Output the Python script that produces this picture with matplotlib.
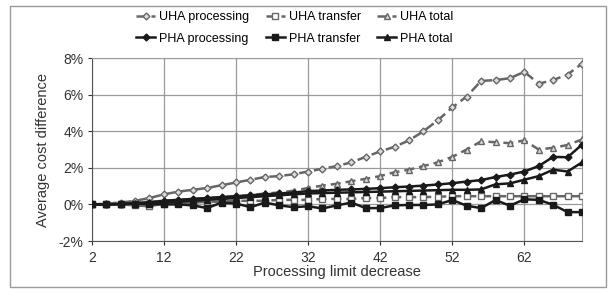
import matplotlib.pyplot as plt
from matplotlib.patches import Rectangle
from matplotlib.ticker import FuncFormatter

plt.rcParams['font.family'] = ['Liberation Sans', 'DejaVu Sans']

# limite de procesamiento (2, 4, ..., 70)
x = list(range(2, 71, 2))

uha_processing = [0.0, 0.05, 0.1, 0.2, 0.35, 0.55, 0.7, 0.8, 0.9, 1.05, 1.2, 1.35, 1.5, 1.55, 1.65,
                  1.8, 1.95, 2.1, 2.3, 2.6, 2.9, 3.15, 3.5, 4.0, 4.6, 5.3, 5.9, 6.75, 6.8, 6.9,
                  7.25, 6.6, 6.8, 7.1, 7.7]
uha_transfer = [0.0, 0.0, 0.0, -0.05, -0.1, 0.05, 0.1, 0.1, 0.15, 0.15, 0.2, 0.2, 0.2, 0.25, 0.25,
                0.25, 0.3, 0.3, 0.3, 0.35, 0.35, 0.4, 0.4, 0.4, 0.42, 0.45, 0.45, 0.45, 0.45, 0.45,
                0.45, 0.45, 0.45, 0.45, 0.45]
uha_total = [0.0, 0.0, 0.05, 0.1, 0.15, 0.2, 0.25, 0.3, 0.35, 0.4, 0.45, 0.5, 0.6, 0.65, 0.75,
             0.9, 1.03, 1.13, 1.27, 1.4, 1.55, 1.76, 1.9, 2.1, 2.3, 2.6, 3.0, 3.45, 3.4, 3.35,
             3.5, 3.0, 3.1, 3.25, 3.55]
pha_processing = [0.0, 0.0, 0.02, 0.05, 0.1, 0.2, 0.25, 0.3, 0.35, 0.4, 0.45, 0.5, 0.55, 0.6, 0.65,
                  0.73, 0.76, 0.8, 0.82, 0.85, 0.89, 0.94, 0.98, 1.03, 1.09, 1.16, 1.25, 1.33, 1.5, 1.63,
                  1.8, 2.1, 2.6, 2.58, 3.27]
pha_transfer = [0.0, 0.0, 0.02, 0.05, 0.02, 0.0, 0.0, -0.05, -0.2, 0.1, 0.05, -0.15, 0.1, -0.05, -0.15,
                -0.1, -0.22, -0.05, 0.1, -0.2, -0.2, -0.05, -0.03, -0.03, 0.0, 0.24, -0.07, -0.2, 0.24, -0.07,
                0.28, 0.25, -0.02, -0.42, -0.42]
pha_total = [0.0, 0.0, 0.03, 0.05, 0.08, 0.12, 0.15, 0.2, 0.25, 0.3, 0.35, 0.4, 0.45, 0.5, 0.55,
             0.6, 0.62, 0.64, 0.66, 0.68, 0.7, 0.72, 0.74, 0.76, 0.78, 0.8, 0.8, 0.82, 1.1, 1.15,
             1.35, 1.55, 1.9, 1.8, 2.3]

fig = plt.figure(figsize=(6.12, 2.89), dpi=100)
ax = fig.add_axes([0.150, 0.166, 0.801, 0.633])

gris = '#666666'
negro = '#1a1a1a'

series = [
    (uha_processing, 'UHA processing', 'D', '--', gris, '#dcdcdc', 3.5),
    (uha_transfer, 'UHA transfer', 's', '--', gris, 'white', 4.5),
    (uha_total, 'UHA total', '^', '--', gris, '#dcdcdc', 4.5),
    (pha_processing, 'PHA processing', 'D', '-', negro, negro, 3.5),
    (pha_transfer, 'PHA transfer', 's', '-', negro, negro, 4.5),
    (pha_total, 'PHA total', '^', '-', negro, negro, 4.5),
]

lineas = {}
for datos, nombre, m, ls, c, fc, ms in series:
    ln, = ax.plot(x, datos, linestyle=ls, marker=m, color=c, markerfacecolor=fc,
                  markeredgecolor=c, markersize=ms, linewidth=1.8, label=nombre,
                  dashes=(4, 2) if ls == '--' else (None, None), zorder=3)
    lineas[nombre] = ln

ax.set_xlim(2, 70)
ax.set_ylim(-2, 8)
ax.set_xticks([2, 12, 22, 32, 42, 52, 62])
ax.set_yticks([-2, 0, 2, 4, 6, 8])
ax.yaxis.set_major_formatter(FuncFormatter(lambda v, p: f"{v:.0f}%"))
ax.grid(True, color='#9a9a9a', linewidth=0.9)
ax.set_axisbelow(True)
for s in ['top', 'right']:
    ax.spines[s].set_color('#9a9a9a')
for s in ['left', 'bottom']:
    ax.spines[s].set_color('#555555')
ax.tick_params(labelsize=10, colors='#333333', length=3, width=0.8)
ax.tick_params(axis='y', pad=3)
ax.tick_params(axis='x', pad=4)
ax.set_ylabel("Average cost difference", fontsize=10.5, color='#333333', labelpad=6)
ax.set_xlabel("Processing limit decrease", fontsize=10.5, color='#333333', labelpad=0)

orden = ['UHA processing', 'PHA processing', 'UHA transfer', 'PHA transfer', 'UHA total', 'PHA total']
fig.legend([lineas[n] for n in orden], orden, loc='upper center', bbox_to_anchor=(0.482, 1.0),
           ncol=3, frameon=False, fontsize=9, handlelength=1.5, handletextpad=0.35,
           columnspacing=1.3, labelspacing=0.75)

fig.patches.append(Rectangle((0.016, 0.008), 0.975, 0.97, transform=fig.transFigure,
                             fill=False, edgecolor='#9a9a9a', linewidth=1.0))

fig.savefig("out.png", dpi=100)
